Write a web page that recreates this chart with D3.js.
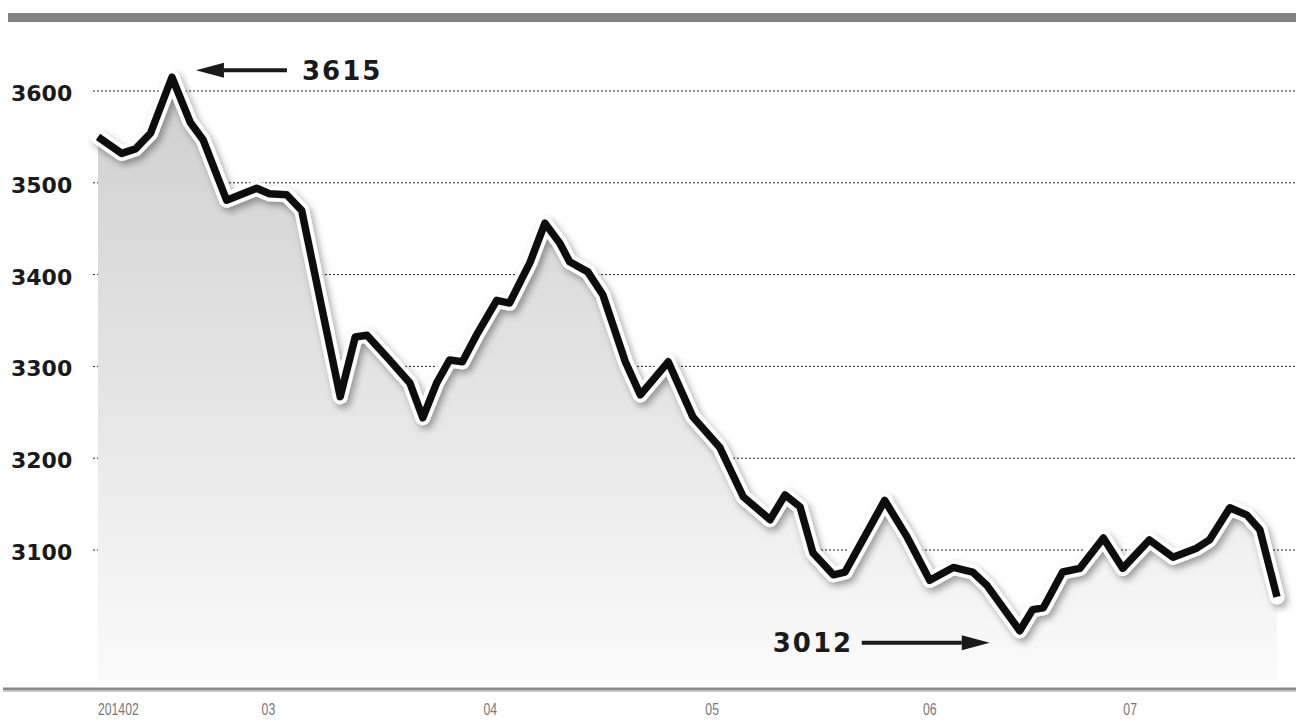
<!DOCTYPE html>
<html>
<head>
<meta charset="utf-8">
<script src="https://cdn.jsdelivr.net/npm/d3@7"></script>
<style>
  html, body { margin: 0; padding: 0; background: #fff; }
  svg { display: block; }
</style>
</head>
<body>
<script>
// trading-day position of each reading, and the index value at that point
const days = [0, 2.2, 3.5, 4.9, 6.9, 8.6, 9.8, 12, 14.8, 16, 17.6, 19, 22.6, 24, 25.1, 27.2, 29.1, 30.3,
  31.6, 32.8, 34, 35.4, 37.2, 38.4, 40.3, 41.7, 43.1, 44, 45.7, 47.1, 49.2, 50.6, 53.2, 55.5, 58, 60.2,
  62.7, 64.1, 65.5, 66.7, 68.6, 69.7, 73.4, 75.5, 77.6, 79.8, 81.6, 82.9, 86, 87.2, 88.2, 90, 91.6,
  93.8, 95.6, 98.1, 100.3, 102.5, 103.7, 105.6, 107.2, 108.4, 110]
const values = [3550, 3532, 3537, 3554, 3615, 3566, 3547, 3481, 3494, 3488, 3487, 3470, 3267, 3332, 3334, 3307, 3282, 3244,
  3282, 3307, 3305, 3336, 3372, 3369, 3413, 3456, 3434, 3414, 3403, 3378, 3305, 3269, 3305, 3245, 3212, 3158,
  3133, 3160, 3147, 3097, 3073, 3076, 3154, 3114, 3067, 3081, 3076, 3062, 3012, 3035, 3037, 3076, 3080,
  3113, 3080, 3111, 3092, 3102, 3111, 3146, 3138, 3122, 3049]

const yTicks = [3100, 3200, 3300, 3400, 3500, 3600]
const monthDays = [1.9, 15.9, 36.6, 57.3, 77.6, 96.3]
const monthLabels = ["201402", "03", "04", "05", "06", "07"]

const highIdx = values.indexOf(d3.max(values))
const lowIdx = values.indexOf(d3.min(values))

const width = 1296
const height = 720
const baseY = 683

const data = days.map((d, i) => ({day: d, value: values[i]}))

const x = d3.scaleLinear().domain([0, 110]).range([98, 1277])
const y = d3.scaleLinear().domain([3100, 3600]).range([550, 91])

const svg = d3.select("body").append("svg").attr("width", width).attr("height", height)

const defs = svg.append("defs")
const grad = defs.append("linearGradient").attr("id", "fill").attr("x1", 0).attr("y1", 0).attr("x2", 0).attr("y2", 1)
grad.append("stop").attr("offset", "0%").attr("stop-color", "#cfcfcf")
grad.append("stop").attr("offset", "55%").attr("stop-color", "#e6e6e6")
grad.append("stop").attr("offset", "100%").attr("stop-color", "#fbfbfb")

const shadow = defs.append("filter").attr("id", "shadow").attr("x", "-5%").attr("y", "-5%").attr("width", "110%").attr("height", "115%")
shadow.append("feDropShadow").attr("dx", 3).attr("dy", 4).attr("stdDeviation", 3.5)
  .attr("flood-color", "#000").attr("flood-opacity", 0.35)

// top bar
svg.append("rect").attr("x", 8).attr("y", 13).attr("width", width - 8).attr("height", 9).attr("fill", "#828282")

// dotted grid
svg.append("g").selectAll("line").data(yTicks).join("line")
  .attr("x1", 93).attr("x2", width)
  .attr("y1", (d) => y(d)).attr("y2", (d) => y(d))
  .attr("stroke", "#222").attr("stroke-width", 1).attr("stroke-dasharray", "2,2")

// y labels
svg.append("g").selectAll("text").data(yTicks).join("text")
  .attr("x", 11).attr("y", (d) => y(d) + 10)
  .attr("font-family", "DejaVu Sans").attr("font-weight", "bold").attr("font-size", 22)
  .attr("fill", "#1a1a1a")
  .text((d) => d)

// area under the line
const area = d3.area().x((d) => x(d.day)).y0(baseY).y1((d) => y(d.value))
svg.append("path").datum(data).attr("d", area).attr("fill", "url(#fill)")

// line with white halo and shadow
const line = d3.line().x((d) => x(d.day)).y((d) => y(d.value))
const lineG = svg.append("g").attr("filter", "url(#shadow)")
lineG.append("path").datum(data).attr("d", line)
  .attr("fill", "none").attr("stroke", "#fff").attr("stroke-width", 15)
  .attr("stroke-linejoin", "round").attr("stroke-linecap", "round")
lineG.append("path").datum(data).attr("d", line)
  .attr("fill", "none").attr("stroke", "#111").attr("stroke-width", 7.5)
  .attr("stroke-linejoin", "round").attr("stroke-linecap", "butt")

// bottom axis
svg.append("line").attr("x1", 3).attr("x2", width).attr("y1", 689).attr("y2", 689)
  .attr("stroke", "#8a8a8a").attr("stroke-width", 3)
svg.append("line").attr("x1", 3).attr("x2", width).attr("y1", 691.5).attr("y2", 691.5)
  .attr("stroke", "#c8c8c8").attr("stroke-width", 1)

svg.append("g").selectAll("text").data(monthDays).join("text")
  .attr("transform", (d) => `translate(${x(d)},715) scale(0.72,1)`)
  .attr("text-anchor", "middle")
  .attr("font-family", "Liberation Sans, sans-serif")
  .attr("font-size", 17).attr("fill", "#777")
  .text((d, i) => monthLabels[i])

// annotations
function arrow(x1, x2, yy) {
  const dir = x2 > x1 ? 1 : -1
  const head = 28
  svg.append("line").attr("x1", x1).attr("x2", x2 - dir * head).attr("y1", yy).attr("y2", yy)
    .attr("stroke", "#1a1a1a").attr("stroke-width", 4)
  svg.append("path")
    .attr("d", `M${x2},${yy} L${x2 - dir * head},${yy - 7.5} L${x2 - dir * head},${yy + 7.5} Z`)
    .attr("fill", "#1a1a1a")
}

const hi = data[highIdx]
const lo = data[lowIdx]

arrow(x(hi.day) + 115, x(hi.day) + 24, y(hi.value) - 7)
svg.append("text").attr("x", x(hi.day) + 130).attr("y", y(hi.value) + 3)
  .attr("font-family", "DejaVu Sans").attr("font-weight", "bold").attr("font-size", 26)
  .attr("letter-spacing", 2).attr("fill", "#1a1a1a").text(hi.value)

arrow(x(lo.day) - 158, x(lo.day) - 30, y(lo.value) + 12)
svg.append("text").attr("x", x(lo.day) - 247).attr("y", y(lo.value) + 21)
  .attr("font-family", "DejaVu Sans").attr("font-weight", "bold").attr("font-size", 26)
  .attr("letter-spacing", 2).attr("fill", "#1a1a1a").text(lo.value)
</script>
</body>
</html>
